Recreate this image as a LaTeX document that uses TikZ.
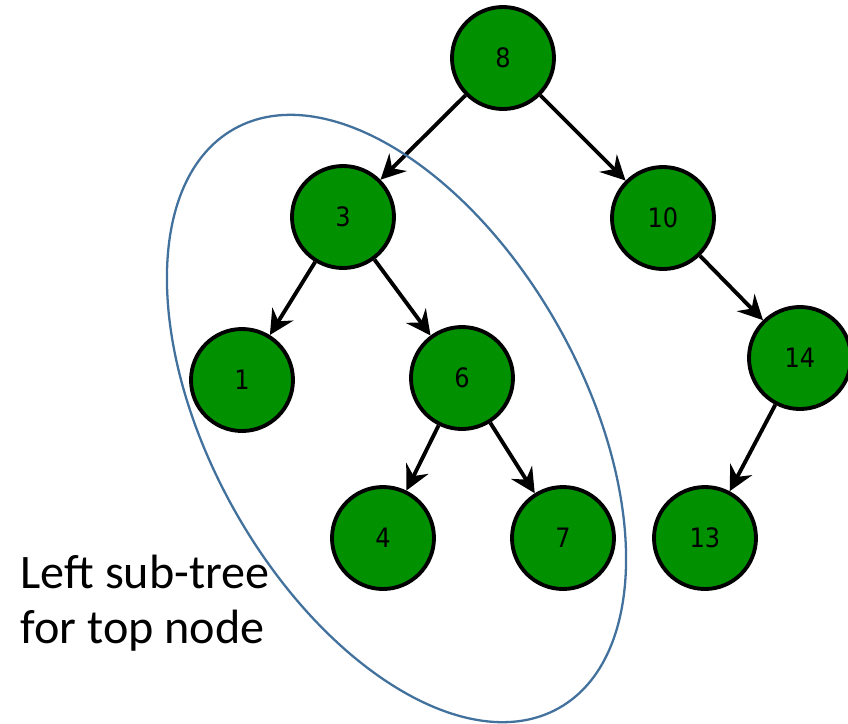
\documentclass[tikz,border=0pt]{standalone}
\usepackage{fontspec}
\setmainfont{Carlito}
\newfontfamily\keyfont{DejaVu Sans Condensed}
\usepackage{tikz}
\usetikzlibrary{arrows.meta}
\definecolor{treegreen}{RGB}{0,144,0}
\definecolor{subtreeblue}{RGB}{65,113,156}
\tikzset{
  key/.style={circle, draw=black, line width=1.1pt, fill=treegreen,
    minimum size=1.02cm, inner sep=0pt, font=\keyfont\fontsize{7.6}{9}\selectfont},
  child/.style={-{Stealth[length=7pt,width=7pt,inset=2.4pt]}, line width=1.1pt},
}

\begin{document}
\begin{tikzpicture}
        \useasboundingbox (0,0) rectangle (8.48,-7.24);
        % keys
        \node[key] (n8) at (5.03,-0.58) {8};
        \node[key] (n3) at (3.43,-2.17) {3};
        \node[key] (n10) at (6.63,-2.18) {10};
        \node[key] (n1) at (2.42,-3.80) {1};
        \node[key] (n6) at (4.62,-3.78) {6};
        \node[key] (n14) at (8.00,-3.58) {14};
        \node[key] (n4) at (3.83,-5.38) {4};
        \node[key] (n7) at (5.63,-5.38) {7};
        \node[key] (n13) at (7.05,-5.38) {13};
        % links
        \draw[child] (n8) -- (n3);
        \draw[child] (n8) -- (n10);
        \draw[child] (n3) -- (n1);
        \draw[child] (n3) -- (n6);
        \draw[child] (n6) -- (n4);
        \draw[child] (n6) -- (n7);
        \draw[child] (n10) -- (n14);
        \draw[child] (n14) -- (n13);
        % left sub-tree outline
        \draw[subtreeblue, line width=0.65pt] (3.965,-4.185)
            ellipse [x radius=3.32, y radius=1.862, rotate=-60.75];
        \node[anchor=west, align=left, inner sep=0pt,
              font=\fontsize{13.7}{15.6}\selectfont] (lbl) at (0.2,-6.03)
            {Left sub-tree\\for top node};
\end{tikzpicture}
\end{document}
